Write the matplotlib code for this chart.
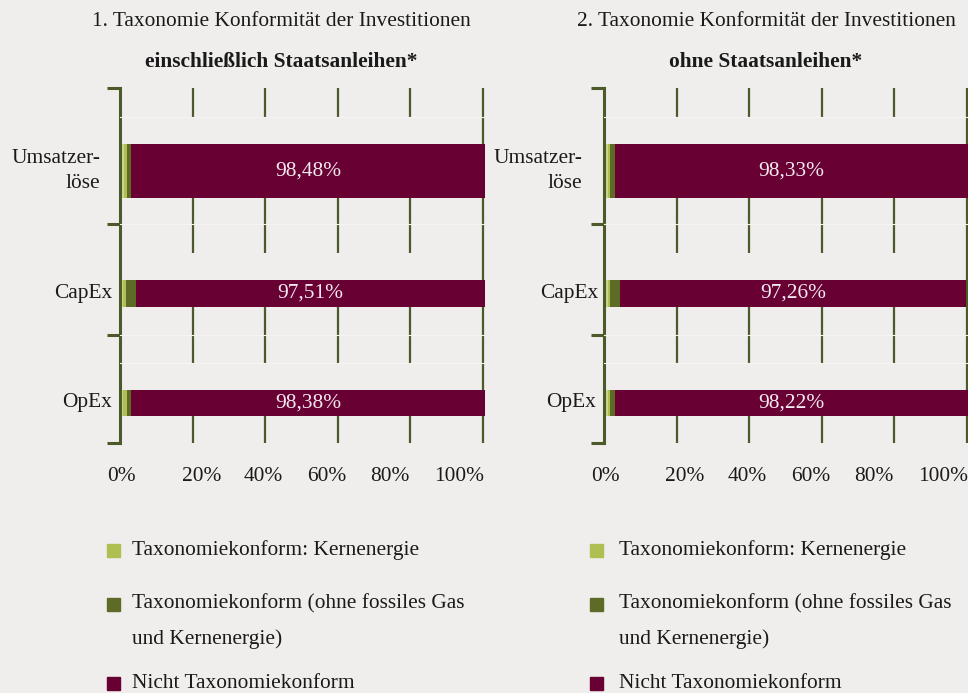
import matplotlib.pyplot as plt
from matplotlib.patches import Rectangle

plt.rcParams['font.family'] = ['Liberation Serif', 'DejaVu Serif']

# data (segment widths in %)
categories = ["Umsatzer-\nlöse", "CapEx", "OpEx"]

left_gas = [1.0, 0.8, 0.8]
left_kern = [0.74, 0.75, 0.94]
left_dark = [1.19, 2.75, 1.19]
left_nicht = [97.7, 96.3, 97.7]
left_labels = ["98,48%", "97,51%", "98,38%"]

right_gas = [1.02, 1.02, 1.02]
right_kern = [0.63, 0.63, 0.63]
right_dark = [1.38, 2.76, 1.38]
right_nicht = [97.3, 95.4, 97.3]
right_labels = ["98,33%", "97,26%", "98,22%"]

tick_values = ["0%", "20%", "40%", "60%", "80%", "100%"]
legend_labels = ["Taxonomiekonform: Kernenergie",
                 "Taxonomiekonform (ohne fossiles Gas\nund Kernenergie)",
                 "Nicht Taxonomiekonform"]

# styling / layout
BG = "#efeeec"
GRID = "#4b5a28"
C_GAS = "#cdd68f"
C_KERN = "#afbf52"
C_DARK = "#5e6b26"
C_NICHT = "#680034"
TEXT = "#1a1a1a"
FS = 15.4

W, H = 968, 693
bar_pos = [0.234, 0.579, 0.887]
bar_h = [0.152, 0.076, 0.073]
mask_pos = [0.120, 0.503, 0.813]
boundaries = [0, 0.383, 0.696, 1]
light_lines = [0.082, 0.383, 0.696, 0.775]
tick_label_x = [0.3, 22.3, 39.4, 56.9, 74.4, 93.6]

fig = plt.figure(figsize=(W / 100, H / 100), dpi=100, facecolor=BG)


def draw_panel(x0_px, x100_px, right_px, gas, kern, dark, nicht, labels, cat_off):
    scale = (x100_px - x0_px) / 100.0
    xmax = (right_px - x0_px) / scale
    ax = fig.add_axes([x0_px / W, 1 - 443 / H, (right_px - x0_px) / W, 355 / H])
    ax.set_facecolor(BG)
    ax.set_xlim(0, xmax)
    ax.set_ylim(1, 0)
    ax.set_axisbelow(True)
    ax.set_xticks([0, 20, 40, 60, 80, 100])
    ax.grid(axis='x', color=GRID, lw=1.6)
    ax.tick_params(axis='x', length=0, labelbottom=False)
    ax.set_yticks(boundaries)
    ax.tick_params(axis='y', direction='out', length=9.5, width=2.2,
                   color=GRID, labelleft=False)
    for s in ['top', 'right', 'bottom']:
        ax.spines[s].set_visible(False)
    ax.spines['left'].set_color(GRID)
    ax.spines['left'].set_linewidth(2.2)

    # background strips that break the grid above each bar
    ax.barh(mask_pos, 98, left=1, height=0.076, color=BG, zorder=1)
    for yy in light_lines:
        ax.axhline(yy, color="#f5f4f2", lw=0.8, zorder=3)

    left = [0.0] * 3
    for vals, col in [(gas, C_GAS), (kern, C_KERN), (dark, C_DARK), (nicht, C_NICHT)]:
        ax.barh(bar_pos, vals, left=left, height=bar_h, color=col, zorder=2)
        left = [a + b for a, b in zip(left, vals)]

    for i in range(3):
        start = gas[i] + kern[i] + dark[i]
        ax.text(start + nicht[i] / 2, bar_pos[i], labels[i], ha='center', va='center',
                color="#f3e9ee", fontsize=FS, zorder=4)
        ax.annotate(categories[i], xy=(0, bar_pos[i]), xycoords=('axes fraction', 'data'),
                    xytext=(cat_off[i] * 0.72, 0), textcoords='offset points',
                    ha='right', va='center', fontsize=FS, color=TEXT,
                    linespacing=1.45, multialignment='right', annotation_clip=False)

    for xv, lab in zip(tick_label_x, tick_values):
        ax.text(xv, 1.095, lab, ha='center', va='center', fontsize=FS, color=TEXT,
                clip_on=False)
    return ax


draw_panel(120.4, 482.7, 484.5, left_gas, left_kern, left_dark, left_nicht,
           left_labels, [-20, -8, -8])
draw_panel(604.0, 966.7, 968.0, right_gas, right_kern, right_dark, right_nicht,
           right_labels, [-22, -6, -8])

# panel titles
titles = [(281, "1.", "einschließlich Staatsanleihen*"),
          (766, "2.", "ohne Staatsanleihen*")]
for cx, num, sub in titles:
    fig.text(cx / W, 1 - 22 / H, num + " Taxonomie Konformität der Investitionen",
             ha='center', va='center', fontsize=FS, color=TEXT)
    fig.text(cx / W, 1 - 62 / H, sub, ha='center', va='center', fontsize=FS,
             fontweight='bold', color=TEXT)

# legends
legend_y = [550, 604, 683]
for sq_x, tx in [(107, 132), (590, 619)]:
    for yy, lab, col in zip(legend_y, legend_labels, [C_KERN, C_DARK, C_NICHT]):
        fig.patches.append(Rectangle((sq_x / W, 1 - (yy + 6.5) / H), 13 / W, 13 / H,
                                     transform=fig.transFigure, color=col))
        for k, line in enumerate(lab.split('\n')):
            fig.text(tx / W, 1 - (yy + 35 * k) / H, line, ha='left', va='center',
                     fontsize=FS, color=TEXT)

fig.savefig("out.png", dpi=100, facecolor=BG)
